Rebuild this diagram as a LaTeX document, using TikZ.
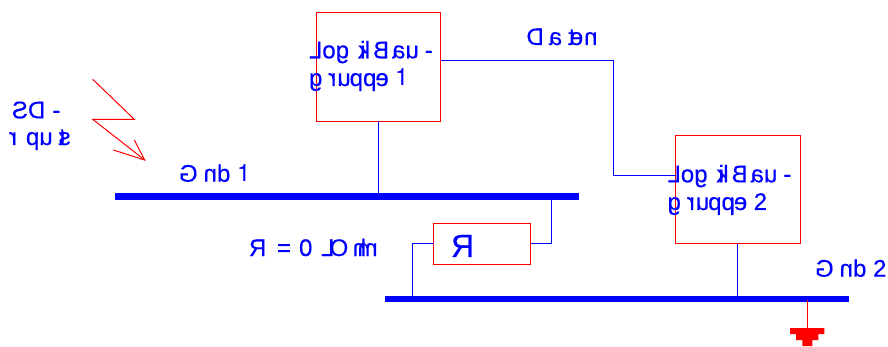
\documentclass[tikz,border=0pt]{standalone}
\usepackage{graphicx}
\usepackage{fontspec}
\setmainfont[FakeBold=0.4]{Liberation Sans}
\newfontfamily\hvf{TeX Gyre Heros}
\newcommand\rg[1]{\reflectbox{#1}}
\newcommand\kn[1]{\kern#1pt\relax}
\newcommand\one{{\hvf 1}}
\definecolor{bl}{RGB}{0,0,255}
\definecolor{rd}{RGB}{255,0,0}
\tikzset{
 x=1pt,y=-1pt,
 lbl/.style={text=bl,inner sep=0pt,outer sep=0pt,anchor=base west,font=\fontsize{24}{24}\selectfont},
 biglbl/.style={lbl,font=\fontsize{32}{32}\selectfont},
 redbox/.style={draw=rd,line width=1pt,inner sep=0pt,outer sep=0pt,anchor=north west,fill=none},
 busbar/.style={fill=bl,inner sep=0pt,outer sep=0pt,anchor=north west,minimum height=6.5pt},
 wire/.style={draw=bl,line width=1pt},
 redline/.style={draw=rd,line width=1pt},
}
\begin{document}
\begin{tikzpicture}
\useasboundingbox (0,0) rectangle (888,347);
% boxes
\node[redbox,minimum width=124.5pt,minimum height=109pt] (box1) at (316,12.5) {};
\node[redbox,minimum width=124.5pt,minimum height=108.5pt] (box2) at (675.5,135.5) {};
\node[redbox,minimum width=97pt,minimum height=41pt] (res) at (433.5,223.5) {};
% bus bars
\node[busbar,minimum width=464pt] (bus1) at (115,193.5) {};
\node[busbar,minimum width=464pt] (bus2) at (385,295.8) {};
% waypoints
\coordinate (a1) at (378,121.5);
\coordinate (a2) at (378,193.5);
\coordinate (d1) at (440.5,60.5);
\coordinate (d2) at (613.5,60.5);
\coordinate (d3) at (613.5,176);
\coordinate (d4) at (675.5,176);
\coordinate (b1) at (737.8,244);
\coordinate (b2) at (737.8,296);
\coordinate (r1) at (551.6,200);
\coordinate (r2) at (551.6,244);
\coordinate (r3) at (530.5,244);
\coordinate (r4) at (433.5,244);
\coordinate (r5) at (412.7,244);
\coordinate (r6) at (412.7,296);
\draw[wire] (a1) -- (a2);
\draw[wire] (d1) -- (d2) -- (d3) -- (d4);
\draw[wire] (b1) -- (b2);
\draw[wire] (r1) -- (r2) -- (r3);
\draw[wire] (r4) -- (r5) -- (r6);
% ground
\coordinate (g1) at (807,300);
\coordinate (g2) at (807,328);
\draw[redline] (g1) -- (g2);
\fill[rd] (790,328) -- (824.3,328) -- (824.3,334) -- (818.3,334) -- (818.3,340) -- (812.3,340) -- (812.3,346) -- (802.3,346) -- (802.3,340) -- (796,340) -- (796,334) -- (790,334) -- cycle;
% lightning
\coordinate (l1) at (92.7,79.3);
\coordinate (l2) at (134.3,119.3);
\coordinate (l3) at (92.7,119.3);
\coordinate (l4) at (144.7,160);
\coordinate (l5) at (134.3,140);
\coordinate (l6) at (113.3,150);
\draw[redline,line join=miter] (l1) -- (l2) -- (l3) -- (l4);
\draw[redline] (l5) -- (l4) -- (l6);
% labels
\node[lbl] (t1a) at (309,58.3) {\rg{L}\rg{o}\rg{g}\kn{11}\rg{i}\kn{-7.3}\rg{k}\kn{3}\rg{B}\kn{3}\rg{a}\rg{u}\kn{6}\rg{-}};
\node[lbl] (t1b) at (309,86) {\rg{g}\kn{6}\rg{r}\kn{1}\rg{u}\kn{-1}\rg{p}\rg{p}\kn{-1}\rg{e}\kn{6.5}\one};
\node[lbl] (t2a) at (667.5,182.3) {\rg{L}\rg{o}\rg{g}\kn{11}\rg{i}\kn{-7.3}\rg{k}\kn{3}\rg{B}\kn{3}\rg{a}\rg{u}\kn{6}\rg{-}};
\node[lbl] (t2b) at (667.5,210) {\rg{g}\kn{6}\rg{r}\kn{1}\rg{u}\kn{-1}\rg{p}\rg{p}\kn{-1}\rg{e}\kn{6.5}2};
\node[lbl] (td) at (526.5,45) {\rg{D}\kn{5}\rg{a}\kn{6}\rg{t}\kn{-5}\rg{e}\kn{1}\rg{n}};
\node[lbl] (tg1) at (179,181.7) {\rg{G}\kn{6}\rg{n}\rg{d}\kn{6.7}\one};
\node[lbl] (tg2) at (815,276.7) {\rg{G}\kn{6}\rg{n}\rg{d}\kn{6.7}2};
\node[lbl] (ts1) at (12,118.3) {\rg{S}\rg{D}\kn{7}\rg{-}};
\node[lbl] (ts2) at (9,145) {\rg{r}\kn{9}\rg{p}\rg{u}\kn{6}\rg{t}\kn{-6.7}\rg{s}};
\node[lbl] (tr) at (249,256) {\rg{R}\kn{10.7}\rg{=}\kn{8}0\kn{8.7}\rg{L}\kn{-4.8}\rg{O}\kn{4.5}\rg{h}\kn{-8.5}\rg{m}};
\node[biglbl] (trb) at (451,257) {\rg{R}};
\end{tikzpicture}
\end{document}
